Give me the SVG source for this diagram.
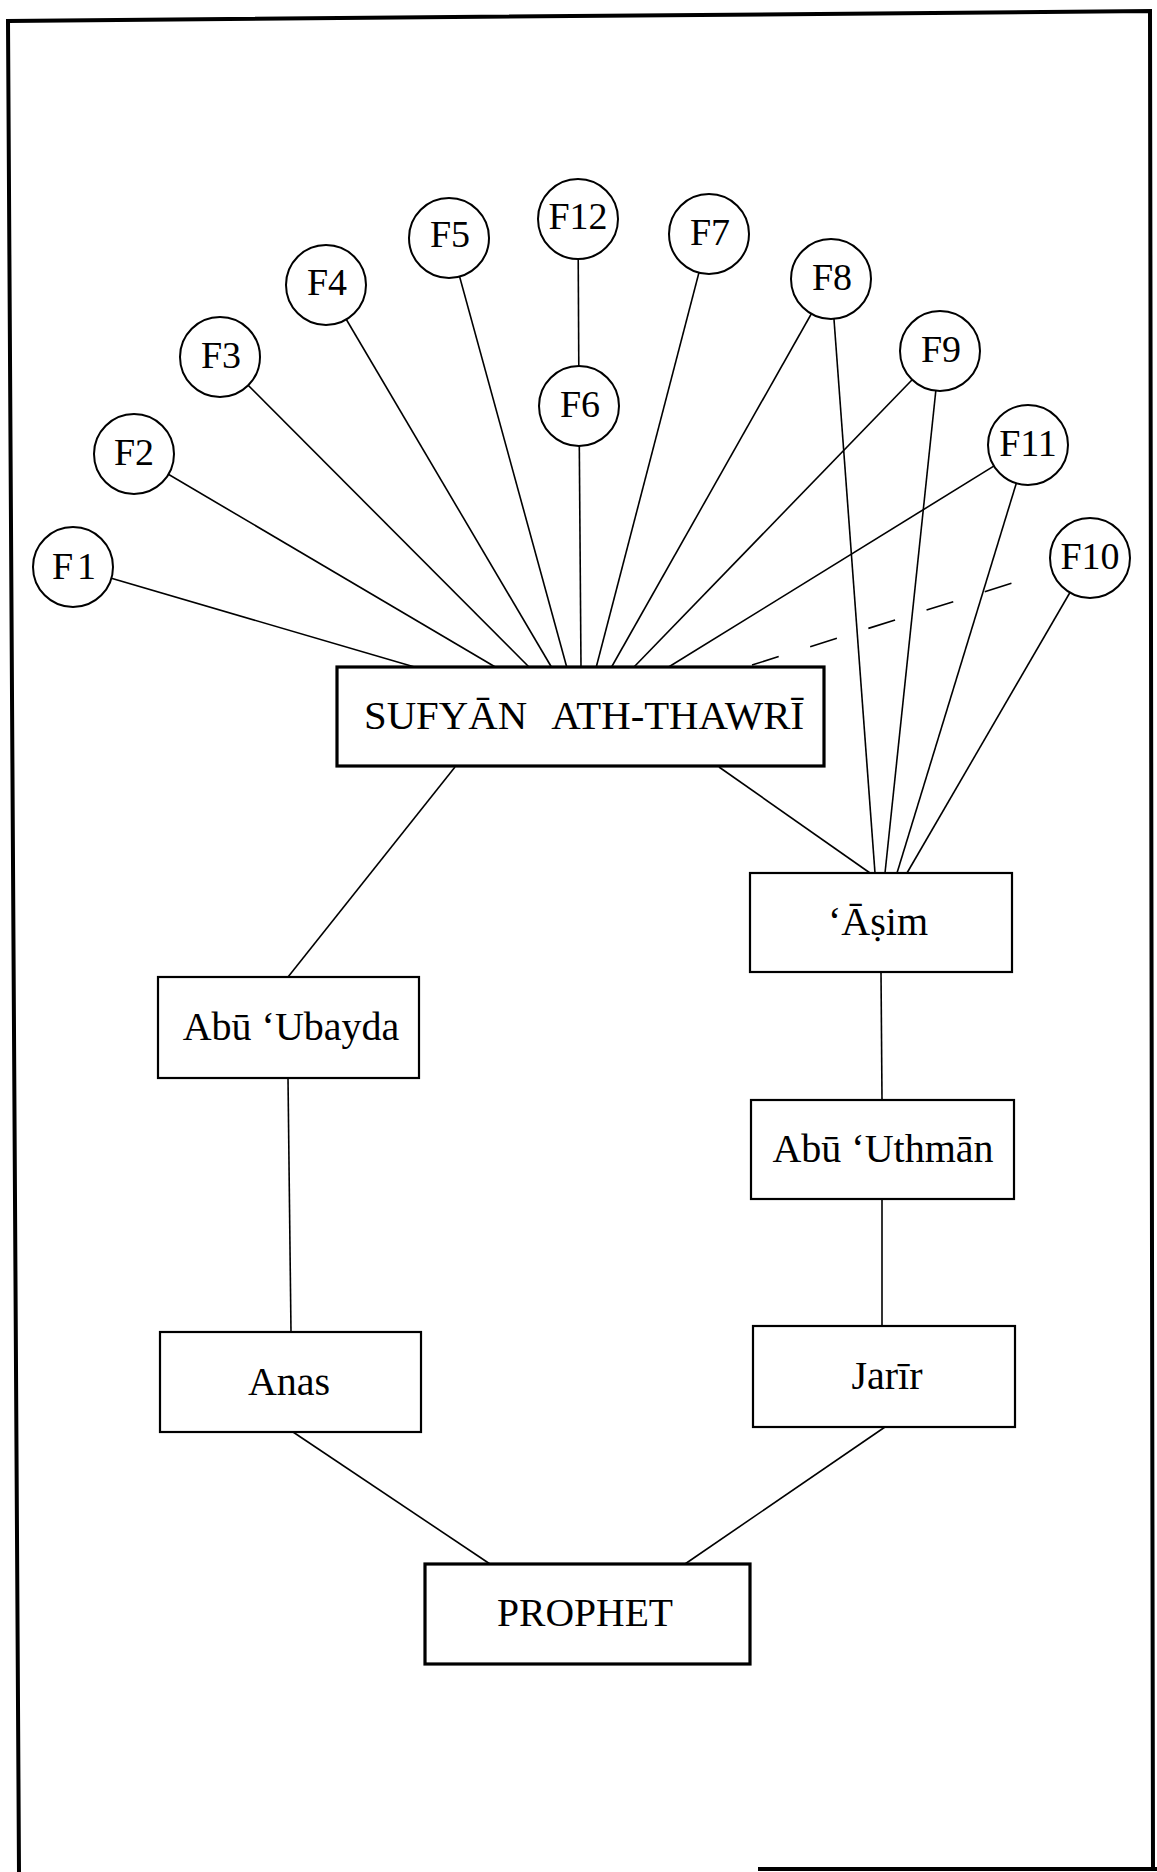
<svg xmlns="http://www.w3.org/2000/svg" width="1157" height="1872" viewBox="0 0 1157 1872">
<style>
.frame{fill:none;stroke:#000;stroke-width:4;stroke-linecap:square}
.ln{stroke:#000;stroke-width:1.6;fill:none}
.dash{stroke:#000;stroke-width:1.6;fill:none;stroke-dasharray:28 33}
.circ{fill:#fff;stroke:#000;stroke-width:2}
.box{fill:#fff;stroke:#000;stroke-width:2.2}
.bold{fill:#fff;stroke:#000;stroke-width:3.2}
.ft{font-family:"Liberation Serif","Times New Roman",serif;font-size:38px;fill:#000;text-anchor:middle}
.bt{font-family:"Liberation Serif","Times New Roman",serif;font-size:40px;fill:#000;text-anchor:middle}
</style>
<rect width="1157" height="1872" fill="#fff"/>
<g id="frame">
<path class="frame" d="M19 1872 L8 21 L1150 11 L1153 1869"/>
<path class="frame" d="M760 1869 L1157 1869"/>
</g>
<g id="connectors">
<line class="ln" x1="73" y1="567" x2="418" y2="668"/>
<line class="ln" x1="134" y1="454" x2="497" y2="668"/>
<line class="ln" x1="220" y1="357" x2="530" y2="668"/>
<line class="ln" x1="326" y1="285" x2="552" y2="668"/>
<line class="ln" x1="449" y1="238" x2="567" y2="668"/>
<line class="ln" x1="579" y1="406" x2="581" y2="668"/>
<line class="ln" x1="578" y1="219" x2="579" y2="406"/>
<line class="ln" x1="709" y1="234" x2="596" y2="668"/>
<line class="ln" x1="831" y1="279" x2="611" y2="668"/>
<line class="ln" x1="940" y1="351" x2="633" y2="668"/>
<line class="ln" x1="1028" y1="445" x2="667" y2="668"/>
<line class="dash" x1="752" y1="665" x2="1022" y2="580"/>
<line class="ln" x1="831" y1="279" x2="875" y2="873"/>
<line class="ln" x1="940" y1="351" x2="885" y2="873"/>
<line class="ln" x1="1028" y1="445" x2="897" y2="873"/>
<line class="ln" x1="1090" y1="558" x2="907" y2="873"/>
<line class="ln" x1="455" y1="767" x2="288" y2="977"/>
<line class="ln" x1="719" y1="767" x2="870" y2="873"/>
<line class="ln" x1="288" y1="1078" x2="291" y2="1332"/>
<line class="ln" x1="881" y1="972" x2="882" y2="1100"/>
<line class="ln" x1="882" y1="1199" x2="882" y2="1326"/>
<line class="ln" x1="293" y1="1432" x2="490" y2="1564"/>
<line class="ln" x1="885" y1="1427" x2="685" y2="1564"/>
</g>
<g id="F1"><circle class="circ" cx="73" cy="567" r="40"/><text class="ft" x="76" y="579" letter-spacing="4">F1</text></g>
<g id="F2"><circle class="circ" cx="134" cy="454" r="40"/><text class="ft" x="134" y="465">F2</text></g>
<g id="F3"><circle class="circ" cx="220" cy="357" r="40"/><text class="ft" x="221" y="368">F3</text></g>
<g id="F4"><circle class="circ" cx="326" cy="285" r="40"/><text class="ft" x="327" y="295">F4</text></g>
<g id="F5"><circle class="circ" cx="449" cy="238" r="40"/><text class="ft" x="450" y="247">F5</text></g>
<g id="F12"><circle class="circ" cx="578" cy="219" r="40"/><text class="ft" x="578" y="229">F12</text></g>
<g id="F6"><circle class="circ" cx="579" cy="406" r="40"/><text class="ft" x="580" y="417">F6</text></g>
<g id="F7"><circle class="circ" cx="709" cy="234" r="40"/><text class="ft" x="710" y="245">F7</text></g>
<g id="F8"><circle class="circ" cx="831" cy="279" r="40"/><text class="ft" x="832" y="290">F8</text></g>
<g id="F9"><circle class="circ" cx="940" cy="351" r="40"/><text class="ft" x="941" y="362">F9</text></g>
<g id="F11"><circle class="circ" cx="1028" cy="445" r="40"/><text class="ft" x="1028" y="456">F11</text></g>
<g id="F10"><circle class="circ" cx="1090" cy="558" r="40"/><text class="ft" x="1090" y="569">F10</text></g>
<g id="sufyan"><rect class="bold" x="337" y="667" width="487" height="99"/><text class="bt" x="584" y="729" font-size="43" word-spacing="16" textLength="440" lengthAdjust="spacingAndGlyphs">SUFYĀN ATH-THAWRĪ</text></g>
<g id="abu-ubayda"><rect class="box" x="158" y="977" width="261" height="101"/><text class="bt" x="291" y="1040">Abū ‘Ubayda</text></g>
<g id="asim"><rect class="box" x="750" y="873" width="262" height="99"/><text class="bt" x="878" y="935">‘Āṣim</text></g>
<g id="abu-uthman"><rect class="box" x="751" y="1100" width="263" height="99"/><text class="bt" x="883" y="1162" font-size="41">Abū ‘Uthmān</text></g>
<g id="jarir"><rect class="box" x="753" y="1326" width="262" height="101"/><text class="bt" x="887" y="1389">Jarīr</text></g>
<g id="anas"><rect class="box" x="160" y="1332" width="261" height="100"/><text class="bt" x="289" y="1395">Anas</text></g>
<g id="prophet"><rect class="bold" x="425" y="1564" width="325" height="100"/><text class="bt" x="585" y="1626" font-size="42" textLength="176" lengthAdjust="spacingAndGlyphs">PROPHET</text></g>
</svg>
